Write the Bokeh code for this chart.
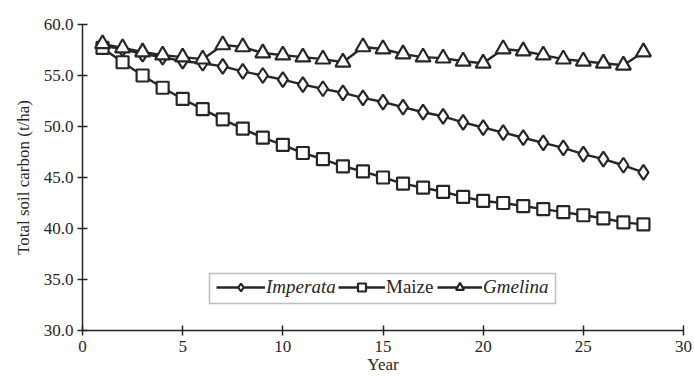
from bokeh.plotting import figure
from bokeh.models import (Legend, LegendItem, FixedTicker, NumeralTickFormatter,
                          BoxAnnotation, ColumnDataSource)
from bokeh.embed import file_html
from bokeh.resources import INLINE

years = list(range(1, 29))
imperata = [57.9, 57.6, 57.1, 56.8, 56.4, 56.2, 55.9, 55.4, 55.0, 54.6, 54.1, 53.7, 53.3, 52.8,
            52.4, 51.9, 51.4, 51.0, 50.4, 49.9, 49.4, 48.9, 48.4, 47.9, 47.3, 46.8, 46.2, 45.5]
maize = [57.7, 56.3, 55.0, 53.8, 52.7, 51.7, 50.7, 49.8, 48.9, 48.2, 47.4, 46.8, 46.1, 45.6,
         45.0, 44.4, 44.0, 43.6, 43.1, 42.7, 42.5, 42.2, 41.9, 41.6, 41.3, 41.0, 40.6, 40.4]
gmelina = [58.1, 57.7, 57.3, 57.0, 56.8, 56.6, 58.0, 57.8, 57.2, 57.0, 56.8, 56.6, 56.3, 57.8,
           57.6, 57.1, 56.8, 56.7, 56.4, 56.2, 57.6, 57.4, 57.0, 56.6, 56.4, 56.2, 56.0, 57.3]
series_names = ["Imperata", "Maize", "Gmelina"]
x_ticks = [0, 5, 10, 15, 20, 25, 30]
y_ticks = [30, 35, 40, 45, 50, 55, 60]

INK = "#262626"
FONT = "Liberation Serif"
LEGEND_FONT = "'Liberation Serif', serif"

p = figure(width=694, height=376, output_backend="svg", toolbar_location=None,
           x_range=(0, 30), y_range=(30, 60),
           min_border_left=82, min_border_right=11, min_border_top=24, min_border_bottom=46)
p.outline_line_color = None
p.xgrid.visible = False
p.ygrid.visible = False
p.background_fill_color = "white"

src = ColumnDataSource(dict(year=years, imperata=imperata, maize=maize, gmelina=gmelina))

l1 = p.line("year", "imperata", source=src, line_color=INK, line_width=2.4)
s1 = p.scatter("year", "imperata", source=src, marker="diamond", size=15,
               fill_color="white", line_color=INK, line_width=2.2)
l2 = p.line("year", "maize", source=src, line_color=INK, line_width=2.4)
s2 = p.scatter("year", "maize", source=src, marker="square", size=12,
               fill_color="white", line_color=INK, line_width=2.2)
l3 = p.line("year", "gmelina", source=src, line_color=INK, line_width=2.4)
s3 = p.scatter("year", "gmelina", source=src, marker="triangle", size=15,
               fill_color="white", line_color=INK, line_width=2.2)

for ax in (p.xaxis[0], p.yaxis[0]):
    ax.axis_line_color = INK
    ax.axis_line_width = 1.5
    ax.major_tick_line_color = INK
    ax.major_tick_line_width = 1.5
    ax.major_tick_in = 5
    ax.major_tick_out = 5
    ax.minor_tick_line_color = None
    ax.major_label_text_font = FONT
    ax.major_label_text_font_size = "17px"
    ax.major_label_text_color = INK
    ax.axis_label_text_font = FONT
    ax.axis_label_text_font_size = "17px"
    ax.axis_label_text_font_style = "normal"
    ax.axis_label_text_color = INK

p.xaxis.ticker = FixedTicker(ticks=x_ticks)
p.yaxis.ticker = FixedTicker(ticks=y_ticks)
p.yaxis.formatter = NumeralTickFormatter(format="0.0")
p.xaxis.axis_label = "Year"
p.yaxis.axis_label = "Total soil carbon (t/ha)"
p.xaxis.major_label_standoff = 5
p.xaxis.axis_label_standoff = 0
p.yaxis.major_label_standoff = 4
p.yaxis.axis_label_standoff = 8

box = BoxAnnotation(left=209, right=555, top=273, bottom=303,
                    left_units="canvas", right_units="canvas",
                    top_units="canvas", bottom_units="canvas",
                    fill_color="white", fill_alpha=1.0,
                    line_color=INK, line_width=1.5)
p.add_layout(box)

specs = [(series_names[0], [l1, s1], "italic", 134, 49),
         (series_names[1], [l2, s2], "normal", 256, 47),
         (series_names[2], [l3, s3], "italic", 355, 45)]
for name, rends, style, xpos, gw in specs:
    lg = Legend(items=[LegendItem(label=name, renderers=rends)],
                location=(xpos, 32), orientation="horizontal",
                glyph_width=gw, glyph_height=20, label_standoff=1,
                padding=0, margin=0, spacing=0,
                border_line_color=None, background_fill_alpha=0,
                label_text_font=LEGEND_FONT, label_text_font_size="19px",
                label_text_font_style=style, label_text_color=INK)
    p.add_layout(lg)

open("out.html", "w").write(file_html(p, INLINE))
